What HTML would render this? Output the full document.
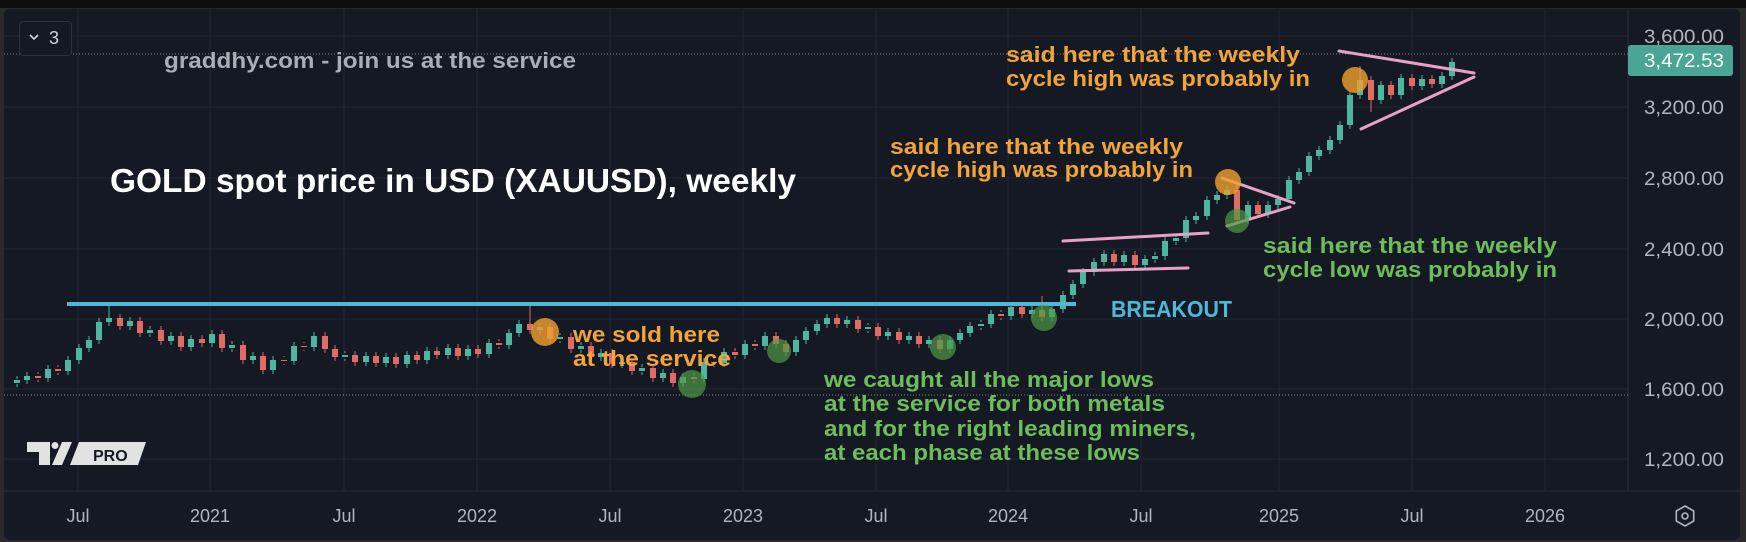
<!DOCTYPE html>
<html><head><meta charset="utf-8">
<style>
html,body{margin:0;padding:0;background:#0e0e0e;}
svg{display:block;}
text{font-family:"Liberation Sans","DejaVu Sans",sans-serif;}
</style></head>
<body>
<svg width="1746" height="542" viewBox="0 0 1746 542" xmlns="http://www.w3.org/2000/svg" xmlns:xlink="http://www.w3.org/1999/xlink">
<defs>
<path id="up" d="M17 380V383 M27 376V380 M48 369V378 M68 360V371 M79 348V360 M89 340V348 M99 322V340 M109 318V322 M130 321V326 M150 330V333 M171 336V341 M191 339V347 M212 334V343 M232 345V348 M253 356V360 M273 360V370 M294 346V361 M314 336V347 M345 355V357 M366 356V362 M386 357V363 M407 355V364 M427 351V360 M448 348V355 M468 349V356 M489 343V354 M509 333V345 M519 324V333 M540 327V330 M560 337V339 M581 346V349 M601 353V357 M622 362V364 M642 368V371 M663 373V378 M683 377V383 M704 362V379 M724 352V363 M745 344V355 M765 336V346 M796 340V352 M806 331V340 M817 324V331 M827 318V324 M847 320V324 M868 327V329 M888 332V336 M909 336V340 M929 340V344 M950 340V349 M960 333V340 M970 326V333 M981 324V326 M991 314V324 M1011 307V316 M1032 310V314 M1052 309V317 M1063 295V309 M1073 284V295 M1083 272V284 M1094 262V272 M1104 254V262 M1124 255V262 M1145 259V265 M1155 256V259 M1165 241V256 M1176 238V241 M1186 220V238 M1196 216V220 M1207 200V216 M1217 195V200 M1227 190V195 M1248 205V220 M1268 205V214 M1278 199V205 M1289 180V199 M1299 172V180 M1309 156V172 M1319 150V156 M1330 140V150 M1340 125V140 M1350 95V125 M1360 80V95 M1381 85V100 M1401 78V95 M1422 79V86 M1442 76V84 M1452 62V76"/>
<path id="dn" d="M38 376V378 M58 369V371 M120 318V326 M140 321V333 M161 330V341 M181 336V347 M202 339V343 M222 334V348 M243 345V360 M263 356V370 M284 360V361 M304 346V347 M325 336V349 M335 349V357 M355 355V362 M376 356V363 M396 357V364 M417 355V360 M437 351V355 M458 348V356 M478 349V354 M499 343V345 M530 324V330 M550 327V339 M571 337V349 M591 346V357 M612 353V364 M632 362V371 M653 368V378 M673 373V383 M694 377V379 M714 362V363 M735 352V355 M755 344V346 M776 336V344 M786 344V352 M837 318V324 M858 320V329 M878 327V336 M899 332V340 M919 336V344 M940 340V349 M1001 314V316 M1022 307V314 M1042 310V317 M1114 254V262 M1135 255V265 M1237 190V220 M1258 205V214 M1371 80V100 M1391 85V95 M1412 78V86 M1432 79V84"/>
</defs>
<rect x="0" y="0" width="1746" height="542" fill="#0e0e0e"/>
<rect x="0" y="8" width="1746" height="534" fill="#2a2a2a"/>
<rect x="4" y="9" width="1736" height="531" rx="6" fill="#151924"/>
<g stroke="#232733" stroke-width="1">
<line x1="4" x2="1628" y1="36" y2="36"/><line x1="4" x2="1628" y1="107" y2="107"/><line x1="4" x2="1628" y1="178" y2="178"/><line x1="4" x2="1628" y1="249" y2="249"/><line x1="4" x2="1628" y1="319" y2="319"/><line x1="4" x2="1628" y1="389" y2="389"/><line x1="4" x2="1628" y1="459" y2="459"/>
<line x1="78" x2="78" y1="9" y2="491"/><line x1="210" x2="210" y1="9" y2="491"/><line x1="344" x2="344" y1="9" y2="491"/><line x1="477" x2="477" y1="9" y2="491"/><line x1="610" x2="610" y1="9" y2="491"/><line x1="743" x2="743" y1="9" y2="491"/><line x1="876" x2="876" y1="9" y2="491"/><line x1="1008" x2="1008" y1="9" y2="491"/><line x1="1141" x2="1141" y1="9" y2="491"/><line x1="1279" x2="1279" y1="9" y2="491"/><line x1="1412" x2="1412" y1="9" y2="491"/><line x1="1545" x2="1545" y1="9" y2="491"/>
</g>
<line x1="1628" y1="9" x2="1628" y2="491" stroke="#2c303b"/>
<line x1="4" y1="491" x2="1740" y2="491" stroke="#2c303b"/>
<line x1="4" y1="54" x2="1628" y2="54" stroke="#7d818c" stroke-dasharray="1,2"/>
<line x1="4" y1="395" x2="1628" y2="395" stroke="#7d818c" stroke-dasharray="1,2"/>
<!-- candles -->
<g fill="none" stroke="#4db6a0">
<use xlink:href="#up" href="#up" stroke-width="6"/>
<use xlink:href="#up" href="#up" stroke-width="1" transform="translate(0,-4)"/>
<use xlink:href="#up" href="#up" stroke-width="1" transform="translate(0,4)"/>
<path d="M109 304V318 M1360 66V80 M1350 95V128 M1063 309V313 M1289 199V203" stroke-width="1"/>
</g>
<g fill="none" stroke="#e06a64">
<use xlink:href="#dn" href="#dn" stroke-width="6"/>
<use xlink:href="#dn" href="#dn" stroke-width="1" transform="translate(0,-4)"/>
<use xlink:href="#dn" href="#dn" stroke-width="1" transform="translate(0,4)"/>
<path d="M530 304V324 M1237 185V190 M1371 100V112 M1042 296V310" stroke-width="1"/>
</g>
<!-- blue line -->
<line x1="67" y1="304" x2="1076" y2="304" stroke="#4db8d8" stroke-width="4"/>
<!-- pink lines -->
<g stroke="#e8a0c8" stroke-width="3" stroke-linecap="round">
<line x1="1063" y1="241" x2="1208" y2="233"/>
<line x1="1069" y1="271" x2="1188" y2="268"/>
<line x1="1222" y1="178" x2="1294" y2="203"/>
<line x1="1227" y1="226" x2="1290" y2="207"/>
<line x1="1339" y1="51" x2="1474" y2="73"/>
<line x1="1361" y1="129" x2="1474" y2="77"/>
</g>
<!-- circles -->
<g fill="#f0a030" fill-opacity="0.8">
<circle cx="545" cy="332" r="14"/><circle cx="1228" cy="182" r="13"/><circle cx="1355" cy="80" r="13"/>
</g>
<g fill="#4f9a45" fill-opacity="0.7">
<circle cx="692" cy="384" r="14"/><circle cx="779" cy="351" r="12"/><circle cx="943" cy="347" r="13"/><circle cx="1044" cy="318" r="13"/><circle cx="1237" cy="221" r="12"/>
</g>
<!-- texts -->
<text x="164" y="68" font-size="22" fill="#a9adb6" font-weight="bold" textLength="412" lengthAdjust="spacingAndGlyphs">graddhy.com - join us at the service</text>
<text x="110" y="192" font-size="33" fill="#ffffff" font-weight="bold" textLength="686" lengthAdjust="spacingAndGlyphs">GOLD spot price in USD (XAUUSD), weekly</text>
<g fill="#f0a43a" font-size="22" font-weight="bold">
<text x="573" y="342" textLength="147" lengthAdjust="spacingAndGlyphs">we sold here</text>
<text x="573" y="366" textLength="158" lengthAdjust="spacingAndGlyphs">at the service</text>
<text x="1006" y="62" textLength="294" lengthAdjust="spacingAndGlyphs">said here that the weekly</text>
<text x="1006" y="86" textLength="304" lengthAdjust="spacingAndGlyphs">cycle high was probably in</text>
<text x="890" y="154" textLength="293" lengthAdjust="spacingAndGlyphs">said here that the weekly</text>
<text x="890" y="177" textLength="303" lengthAdjust="spacingAndGlyphs">cycle high was probably in</text>
</g>
<g fill="#6dbd5a" font-size="22" font-weight="bold">
<text x="824" y="387" textLength="330" lengthAdjust="spacingAndGlyphs">we caught all the major lows</text>
<text x="824" y="411" textLength="341" lengthAdjust="spacingAndGlyphs">at the service for both metals</text>
<text x="824" y="436" textLength="372" lengthAdjust="spacingAndGlyphs">and for the right leading miners,</text>
<text x="824" y="460" textLength="316" lengthAdjust="spacingAndGlyphs">at each phase at these lows</text>
<text x="1263" y="253" textLength="294" lengthAdjust="spacingAndGlyphs">said here that the weekly</text>
<text x="1263" y="277" textLength="294" lengthAdjust="spacingAndGlyphs">cycle low was probably in</text>
</g>
<text x="1111" y="317" font-size="23" fill="#4db8d8" font-weight="bold" textLength="121" lengthAdjust="spacingAndGlyphs">BREAKOUT</text>
<!-- price axis -->
<g fill="#b2b5be" font-size="19">
<text x="1644" y="43" textLength="80" lengthAdjust="spacingAndGlyphs">3,600.00</text>
<text x="1644" y="114" textLength="80" lengthAdjust="spacingAndGlyphs">3,200.00</text>
<text x="1644" y="185" textLength="80" lengthAdjust="spacingAndGlyphs">2,800.00</text>
<text x="1644" y="256" textLength="80" lengthAdjust="spacingAndGlyphs">2,400.00</text>
<text x="1644" y="326" textLength="80" lengthAdjust="spacingAndGlyphs">2,000.00</text>
<text x="1644" y="396" textLength="80" lengthAdjust="spacingAndGlyphs">1,600.00</text>
<text x="1644" y="466" textLength="80" lengthAdjust="spacingAndGlyphs">1,200.00</text>
</g>
<rect x="1628" y="45" width="105" height="31" rx="3" fill="#4aa596"/>
<text x="1644" y="67" font-size="19" fill="#ffffff" textLength="80" lengthAdjust="spacingAndGlyphs">3,472.53</text>
<!-- time axis -->
<g fill="#b2b5be" font-size="18" text-anchor="middle">
<text x="78" y="522">Jul</text><text x="210" y="522">2021</text><text x="344" y="522">Jul</text><text x="477" y="522">2022</text><text x="610" y="522">Jul</text><text x="743" y="522">2023</text><text x="876" y="522">Jul</text><text x="1008" y="522">2024</text><text x="1141" y="522">Jul</text><text x="1279" y="522">2025</text><text x="1412" y="522">Jul</text><text x="1545" y="522">2026</text>
</g>
<!-- gear -->
<g transform="translate(1685,516)" fill="none" stroke="#b2b5be" stroke-width="1.6">
<polygon points="0,-10 8.7,-5 8.7,5 0,10 -8.7,5 -8.7,-5"/><circle r="3"/>
</g>
<!-- top-left box -->
<rect x="19.5" y="21.5" width="52" height="34" rx="4" fill="#151924" stroke="#2e323d"/>
<polyline points="30,35 34,39 38,35" fill="none" stroke="#d1d4dc" stroke-width="1.6"/>
<text x="49" y="44" font-size="18" fill="#d1d4dc">3</text>
<!-- TV logo -->
<g>
<path d="M27,442 H50 V465 H39 V452 H27 Z" fill="#e2e2e2"/>
<circle cx="55" cy="445.5" r="3.5" fill="#e2e2e2"/>
<polygon points="62,442 72,442 62,465 52,465" fill="#e2e2e2"/>
<polygon points="79,442 146,442 138,465 70,465" fill="#e2e2e2"/>
<text x="93" y="461" font-size="16" font-weight="bold" fill="#151924">PRO</text>
</g>
</svg>
</body></html>
